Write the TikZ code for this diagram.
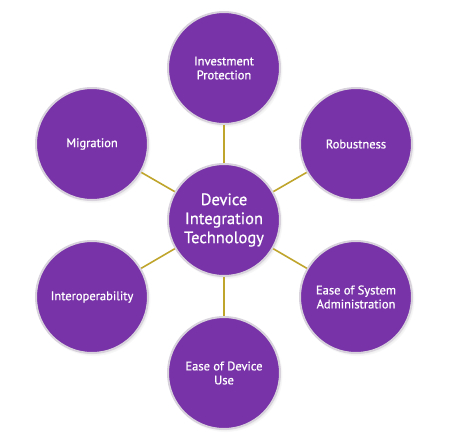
\documentclass[tikz,border=0pt]{standalone}
\usepackage{fontspec}
\setmainfont{PT Sans}
\newfontfamily\lab{PT Sans}[FakeBold=0.8]
\usetikzlibrary{shadows}
\definecolor{bubble}{HTML}{7833A8}
\definecolor{bubbleedge}{HTML}{D8D2DC}
\definecolor{linkcol}{HTML}{BFA52C}
\tikzset{
  bub/.style={circle, minimum size=112pt, inner sep=0pt, fill=bubble, draw=bubbleedge, line width=2pt,
    text=white, align=center, font=\lab\fontsize{12.5}{14}\selectfont,
    circular drop shadow={shadow xshift=1.5pt, shadow yshift=-2pt, opacity=0.35, shadow scale=1.02}},
  hub/.style={bub, font=\lab\fontsize{16.5}{19}\selectfont},
  link/.style={draw=linkcol, line width=1.6pt}
}
\begin{document}
\begin{tikzpicture}[x=1pt,y=-1pt]
\useasboundingbox[fill=white] (0,0) rectangle (449,445);
\node[hub] (c) at (224,220) {Device\\Integration\\Technology};
\node[bub] (t) at (224,68) {Investment\\Protection};
\node[bub] (ul) at (92,144) {Migration};
\node[bub] (ur) at (356,144) {Robustness};
\node[bub] (ll) at (92,297) {Interoperability};
\node[bub] (lr) at (356,297) {Ease of System\\Administration};
\node[bub] (b) at (224,373) {Ease of Device\\Use};
\foreach \n in {t,ul,ur,ll,lr,b} \draw[link] (c) -- (\n);
\end{tikzpicture}
\end{document}
